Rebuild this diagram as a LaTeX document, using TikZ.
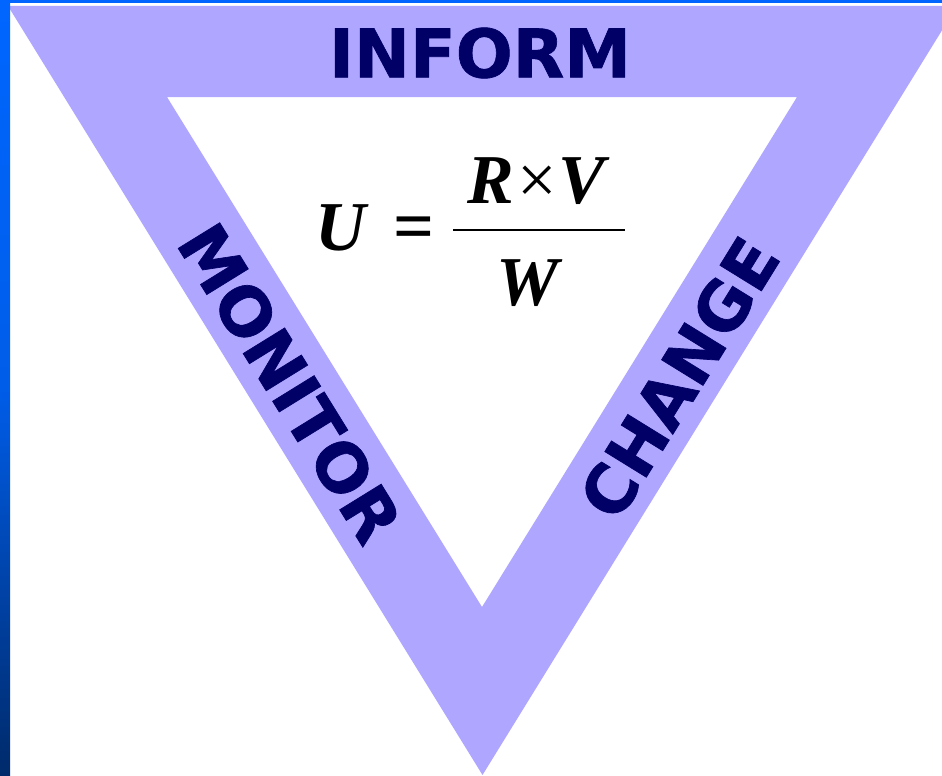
\documentclass[tikz,border=0pt]{standalone}
\usepackage{fontspec}
\newfontfamily\bandfont{DejaVu Sans Bold}[FakeBold=1]
\newfontfamily\eqfont{Liberation Serif}
\definecolor{bandfill}{HTML}{AFA6FF}
\definecolor{bandtext}{HTML}{000066}
\definecolor{striptop}{HTML}{0066FF}
\definecolor{stripbot}{HTML}{002A6A}
\tikzset{
  bandlabel/.style={font=\bandfont\fontsize{67}{67}\selectfont, text=bandtext, inner sep=0pt, anchor=center},
  eqtext/.style={font=\eqfont\bfseries\itshape\fontsize{70}{70}\selectfont, inner sep=0pt, anchor=base}
}
\begin{document}
\begin{tikzpicture}[x=1pt,y=-1pt]
\useasboundingbox (0,0) rectangle (942,776);
\fill[white] (0,0) rectangle (942,776);
\begin{scope}
\clip (0,0) rectangle (942,776);
\fill[bandfill, even odd rule] (8,6) -- (957,6) -- (482.5,775) -- cycle
  (167,97) -- (797,97) -- (482,607) -- cycle;
\end{scope}
% slide frame strips
\shade[top color=striptop, bottom color=stripbot, middle color=striptop!85!stripbot] (0,0) rectangle (10,776);
\fill[striptop] (0,0) rectangle (942,3);
% band labels
\node[bandlabel] (inform) at (480,53) {INFORM};
\node[bandlabel, rotate=-58.3] (monitor) at (290,383) {MONITOR};
\node[bandlabel, rotate=58.3] (change) at (679,378) {CHANGE};
% formula
\node[eqtext] (u) at (341,250) {U};
\node[font=\eqfont\bfseries\fontsize{72}{72}\selectfont, inner sep=0pt, anchor=base] (eq) at (414,250) {=};
\node[eqtext] (num) at (536,203) {R\kern4pt{\mdseries\upshape ×}\kern1pt V};
\node[eqtext] (den) at (528,305) {W};
\coordinate (barl) at (453,230);
\coordinate (barr) at (625,230);
\draw[line width=1.6pt] (barl) -- (barr);
\end{tikzpicture}
\end{document}
